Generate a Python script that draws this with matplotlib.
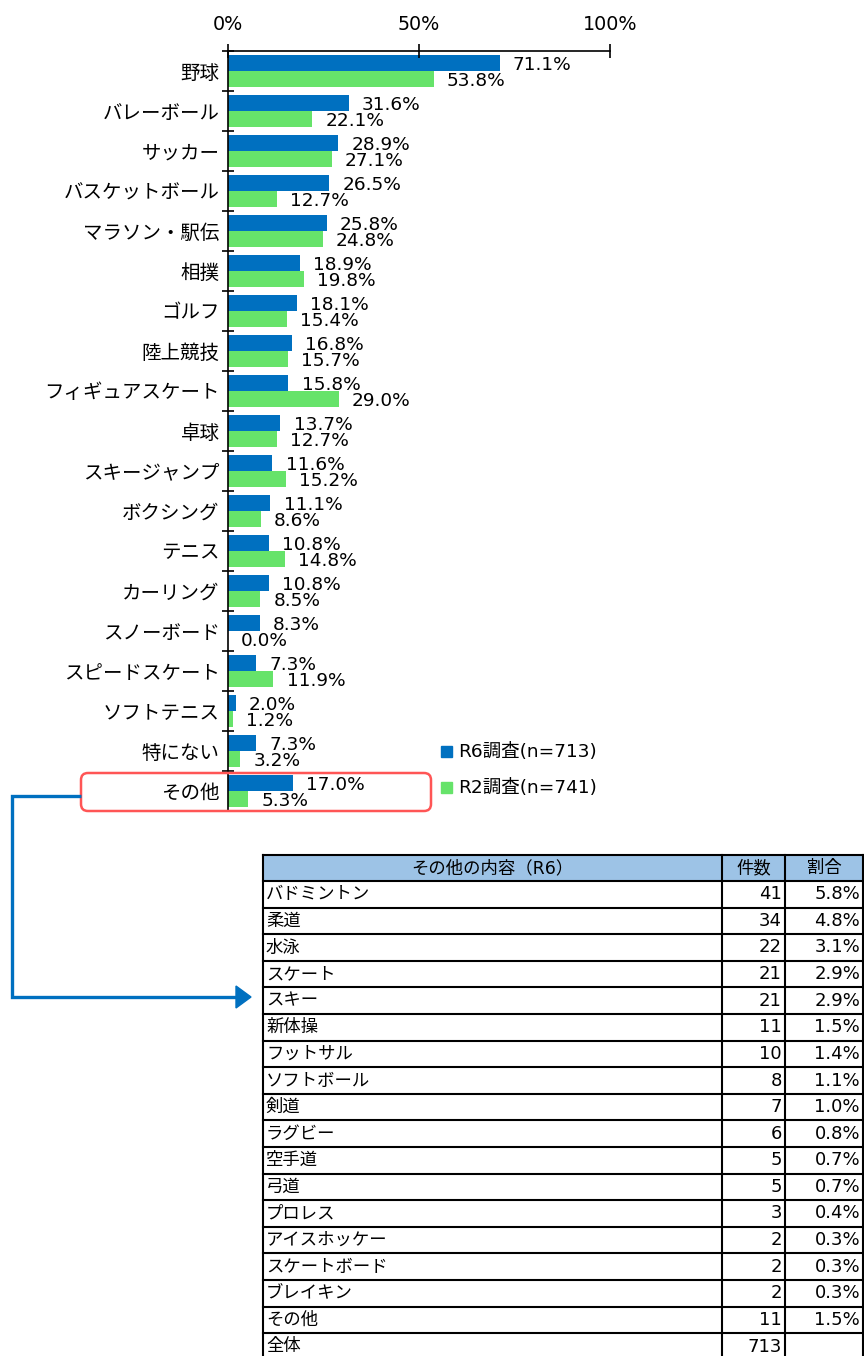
import matplotlib
matplotlib.use("Agg")
import matplotlib.pyplot as plt
from matplotlib.patches import Rectangle, FancyBboxPatch, Polygon
import numpy as np

plt.rcParams['font.family'] = ['DejaVu Sans', 'Noto Sans CJK JP']

# ---- survey results (percent) ----
categories = ['野球', 'バレーボール', 'サッカー', 'バスケットボール', 'マラソン・駅伝',
              '相撲', 'ゴルフ', '陸上競技', 'フィギュアスケート', '卓球', 'スキージャンプ',
              'ボクシング', 'テニス', 'カーリング', 'スノーボード', 'スピードスケート',
              'ソフトテニス', '特にない', 'その他']
r6_values = [71.1, 31.6, 28.9, 26.5, 25.8, 18.9, 18.1, 16.8, 15.8, 13.7, 11.6,
             11.1, 10.8, 10.8, 8.3, 7.3, 2.0, 7.3, 17.0]
r2_values = [53.8, 22.1, 27.1, 12.7, 24.8, 19.8, 15.4, 15.7, 29.0, 12.7, 15.2,
             8.6, 14.8, 8.5, 0.0, 11.9, 1.2, 3.2, 5.3]
series_names = ['R6調査(n=713)', 'R2調査(n=741)']
x_ticks = [0, 50, 100]
x_tick_labels = ['0%', '50%', '100%']

# ---- breakdown of "その他" (R6) ----
table_header = ['その他の内容（R6）', '件数', '割合']
other_items = ['バドミントン', '柔道', '水泳', 'スケート', 'スキー', '新体操', 'フットサル',
               'ソフトボール', '剣道', 'ラグビー', '空手道', '弓道', 'プロレス',
               'アイスホッケー', 'スケートボード', 'ブレイキン', 'その他']
other_counts = [41, 34, 22, 21, 21, 11, 10, 8, 7, 6, 5, 5, 3, 2, 2, 2, 11]
other_shares = [5.8, 4.8, 3.1, 2.9, 2.9, 1.5, 1.4, 1.1, 1.0, 0.8, 0.7, 0.7,
                0.4, 0.3, 0.3, 0.3, 1.5]
total_label = '全体'
total_count = 713

BLUE = '#0070C0'
GREEN = '#66E36A'
W, H = 864, 1356
NUM_FS = 13.3

fig = plt.figure(figsize=(W / 100, H / 100), dpi=100)

# ---- bar chart ----
ax = fig.add_axes([228 / W, (H - 811) / H, 382 / W, 760 / H])
n = len(categories)
pos = np.arange(n)
bh = 0.4
ax.barh(pos - bh / 2, r6_values, height=bh, color=BLUE, label=series_names[0])
ax.barh(pos + bh / 2, r2_values, height=bh, color=GREEN, label=series_names[1])
ax.set_xlim(0, 100)
ax.set_ylim(n - 0.5, -0.5)

for i in range(n):
    ax.annotate(f'{r6_values[i]:.1f}%', (r6_values[i], pos[i] - bh / 2),
                xytext=(9.5, -1.5), textcoords='offset points',
                ha='left', va='center', fontsize=NUM_FS, annotation_clip=False)
    ax.annotate(f'{r2_values[i]:.1f}%', (r2_values[i], pos[i] + bh / 2),
                xytext=(9.5, -1.5), textcoords='offset points',
                ha='left', va='center', fontsize=NUM_FS, annotation_clip=False)

ax.xaxis.tick_top()
ax.set_xticks(x_ticks)
ax.set_xticklabels(x_tick_labels)
ax.tick_params(axis='x', direction='inout', length=10, width=1.2, pad=7,
               labelsize=NUM_FS + 0.5, colors='black')

ax.set_yticks(np.arange(-0.5, n - 1, 1))
ax.set_yticklabels([])
ax.set_yticks(pos, minor=True)
ax.set_yticklabels(categories, minor=True)
ax.tick_params(axis='y', which='major', direction='inout', length=8, width=1.2)
ax.tick_params(axis='y', which='minor', length=0, pad=6, labelsize=14)

for side in ('right', 'bottom'):
    ax.spines[side].set_visible(False)
for side in ('top', 'left'):
    ax.spines[side].set_linewidth(1.2)

# ---- overlay in pixel coordinates: legend, highlight box, connector, table ----
ov = fig.add_axes([0, 0, 1, 1])
ov.set_xlim(0, W)
ov.set_ylim(H, 0)
ov.axis('off')
ov.patch.set_visible(False)

# legend
for (y, col, name) in [(751, BLUE, series_names[0]), (787, GREEN, series_names[1])]:
    ov.add_patch(Rectangle((441, y - 5.5), 11, 11, color=col))
    ov.text(458, y + 1, name, ha='left', va='center', fontsize=13.3)

# highlight around "その他"
ov.add_patch(FancyBboxPatch((81, 773), 350, 38, boxstyle='round,pad=0,rounding_size=7',
                            fill=False, edgecolor='#FF5555', linewidth=1.8))

# connector arrow
ov.plot([81, 12, 12, 237], [796, 796, 997, 997], color=BLUE, linewidth=2.4,
        solid_joinstyle='miter', solid_capstyle='butt')
ov.add_patch(Polygon([(236, 986), (236, 1008), (251, 997)], closed=True, color=BLUE))

# table
col_x = [263, 722, 785, 863]
top = 855
head_h = 26
row_h = 26.6
n_rows = len(other_items) + 1
ov.add_patch(Rectangle((col_x[0], top), col_x[-1] - col_x[0], head_h,
                       facecolor='#9DC3E6', edgecolor='none'))
bottom = top + head_h + row_h * n_rows
line_kw = dict(color='black', linewidth=1.5, solid_capstyle='projecting')
ov.plot([col_x[0], col_x[-1]], [top, top], **line_kw)
for k in range(n_rows + 1):
    y = top + head_h + row_h * k
    ov.plot([col_x[0], col_x[-1]], [y, y], **line_kw)
for x in col_x:
    ov.plot([x, x], [top, bottom], **line_kw)

hy = top + head_h / 2
ov.text((col_x[0] + col_x[1]) / 2, hy, table_header[0], ha='center', va='center', fontsize=12.5)
ov.text((col_x[1] + col_x[2]) / 2, hy, table_header[1], ha='center', va='center', fontsize=12.5)
ov.text((col_x[2] + col_x[3]) / 2, hy, table_header[2], ha='center', va='center', fontsize=12.5)

for k in range(n_rows):
    cy = top + head_h + row_h * (k + 0.5)
    if k < len(other_items):
        name, cnt, share = other_items[k], str(other_counts[k]), f'{other_shares[k]:.1f}%'
    else:
        name, cnt, share = total_label, str(total_count), ''
    ov.text(col_x[0] + 3, cy, name, ha='left', va='center', fontsize=12.5)
    ov.text(col_x[2] - 3, cy, cnt, ha='right', va='center', fontsize=13)
    if share:
        ov.text(col_x[3] - 3, cy, share, ha='right', va='center', fontsize=13)

fig.savefig('out.png', dpi=100)
